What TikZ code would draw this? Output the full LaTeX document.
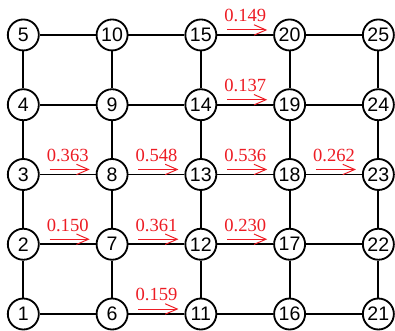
\documentclass[tikz,border=0pt]{standalone}
\usepackage{fontspec}
\setmainfont{Liberation Sans}
\newfontfamily\numfont{Liberation Serif}
\usetikzlibrary{arrows.meta,calc}
\definecolor{flowred}{RGB}{237,28,36}

\begin{document}
\begin{tikzpicture}[x=2.219cm,y=1.744cm,
  vtx/.style={circle,draw,line width=1.3pt,fill=white,minimum size=0.775cm,
    inner sep=0pt,font=\fontsize{13.9}{14}\selectfont},
  link/.style={line width=1.3pt},
  flow/.style={flowred,line width=0.7pt,-{Straight Barb[length=0.3cm,width=0.26cm]}},
  flowval/.style={flowred,anchor=base,inner sep=0pt,font=\numfont\fontsize{13.2}{14}\selectfont}]
  \useasboundingbox (-0.583cm,-0.4cm) rectangle ++(9.875cm,8.25cm);
  % 5x5 grid of numbered vertices, numbered up each column
  \foreach \i in {0,...,4}
    \foreach \j in {0,...,4}{
      \pgfmathtruncatemacro\k{5*\i+\j+1}
      \node[vtx] (n\k) at (\i,\j) {\k};
    }
  % vertical links
  \foreach \i in {0,...,4}
    \foreach \j in {0,...,3}{
      \pgfmathtruncatemacro\a{5*\i+\j+1}
      \pgfmathtruncatemacro\b{\a+1}
      \draw[link] (n\a) -- (n\b);
    }
  % horizontal links
  \foreach \i in {0,...,3}
    \foreach \j in {0,...,4}{
      \pgfmathtruncatemacro\a{5*\i+\j+1}
      \pgfmathtruncatemacro\b{\a+5}
      \draw[link] (n\a) -- (n\b);
    }
  % flow values on the links
  \foreach \a/\b/\v in {3/8/0.363, 2/7/0.150, 8/13/0.548, 7/12/0.361,
      6/11/0.159, 15/20/0.149, 14/19/0.137, 13/18/0.536, 12/17/0.230,
      18/23/0.262}{
    \coordinate (m\a) at ($(n\a)!0.5!(n\b)$);
    \coordinate (f\a) at ([xshift=-0.45cm,yshift=0.125cm]m\a);
    \coordinate (t\a) at ([xshift=0.55cm,yshift=0.125cm]m\a);
    \draw[flow] (f\a) -- (t\a);
    \node[flowval] (v\a) at ([yshift=0.33cm]m\a) {\v};
  }
\end{tikzpicture}
\end{document}
